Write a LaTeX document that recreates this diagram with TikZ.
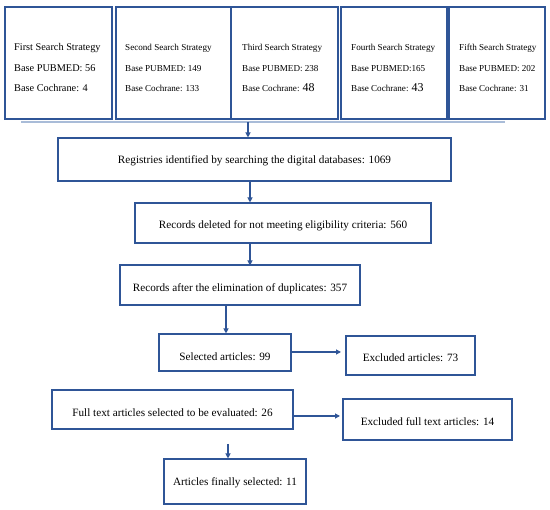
\documentclass[tikz,border=0pt]{standalone}
\usepackage{fontspec}
\setmainfont{Liberation Serif}
\usetikzlibrary{arrows.meta}
\definecolor{bord}{HTML}{2F5597}
\definecolor{sepc}{HTML}{A9BCD8}
\begin{document}
\begin{tikzpicture}[x=1pt,y=-1pt,
  box/.style={draw=bord, line width=1.1pt, inner sep=0pt},
  topbox/.style={draw=bord, line width=1.4pt, inner sep=0pt, minimum height=112},
  ttxt/.style={anchor=west, align=left, inner sep=0pt, font=\fontsize{9.1}{20.5}\selectfont},
  btxt/.style={font=\fontsize{11.2}{12}\selectfont},
  arr/.style={draw=bord, line width=1.1pt, -{Triangle[width=5pt,length=5pt]}}]
\useasboundingbox (0,0) rectangle (550,510);
% top boxes
\node[topbox, minimum width=107] (s1) at (58.5,63) {};
\node[topbox, minimum width=115] (s2) at (173.5,63) {};
\node[topbox, minimum width=107] (s3) at (284.5,63) {};
\node[topbox, minimum width=106] (s4) at (394,63) {};
\node[topbox, minimum width=96] (s5) at (497,63) {};
\node[ttxt, font=\fontsize{10.3}{20.5}\selectfont] (t1) at (14,68) {First Search Strategy\\Base PUBMED: 56\\Base Cochrane: 4};
\node[ttxt] (t2) at (125,68) {Second Search Strategy\\Base PUBMED: 149\\Base Cochrane: 133};
\node[ttxt] (t3) at (242,68) {Third Search Strategy\\Base PUBMED: 238\\Base Cochrane: {\fontsize{12}{12}\selectfont 48}};
\node[ttxt] (t4) at (351,68) {Fourth Search Strategy\\Base PUBMED:165\\Base Cochrane: {\fontsize{12}{12}\selectfont 43}};
\node[ttxt] (t5) at (459,68) {Fifth Search Strategy\\Base PUBMED: 202\\Base Cochrane: 31};
% separator line
\coordinate (L) at (21,122);
\coordinate (R) at (505,122);
\draw[sepc, line width=2.2pt] (L) -- (R);
\coordinate (a1) at (248,122);
% flow boxes
\node[box, minimum width=393, minimum height=43] (r1) at (254.5,159.5) {};
\node[btxt] (r1t) at (254.5,161) {Registries identified by searching the digital databases: 1069};
\node[box, minimum width=296, minimum height=40] (r2) at (283,223) {};
\node[btxt] (r2t) at (283,226) {Records deleted for not meeting eligibility criteria: 560};
\node[box, minimum width=240, minimum height=40] (r3) at (240,285) {};
\node[btxt] (r3t) at (240,289) {Records after the elimination of duplicates: 357};
\node[box, minimum width=132, minimum height=37] (r4) at (225,352.5) {};
\node[btxt] (r4t) at (225,357) {Selected articles: 99};
\node[box, minimum width=129, minimum height=39] (e1) at (410.5,355.5) {};
\node[btxt] (e1t) at (410.5,358) {Excluded articles: 73};
\node[box, minimum width=241, minimum height=39] (r5) at (172.5,409.5) {};
\node[btxt] (r5t) at (172.5,413) {Full text articles selected to be evaluated: 26};
\node[box, minimum width=169, minimum height=41] (e2) at (427.5,419.5) {};
\node[btxt] (e2t) at (427.5,422) {Excluded full text articles: 14};
\node[box, minimum width=142, minimum height=45] (r6) at (235,481.5) {};
\node[btxt] (r6t) at (235,483) {Articles finally selected: 11};
% arrows
\coordinate (x2) at (250,0);
\coordinate (x3) at (226,0);
\coordinate (b6) at (228,444);
\coordinate (h1) at (341,352);
\coordinate (h2) at (340,416);
\draw[arr] (a1) -- (a1 |- r1.north);
\draw[arr] (r1.south -| x2) -- (r2.north -| x2);
\draw[arr] (r2.south -| x2) -- ([yshift=-1pt]r3.north -| x2);
\draw[arr] (r3.south -| x3) -- (r4.north -| x3);
\draw[arr] (r4.east |- h1) -- (h1);
\draw[arr] (r5.east |- h2) -- (h2);
\draw[arr] (b6) -- (b6 |- r6.north);
\end{tikzpicture}
\end{document}
